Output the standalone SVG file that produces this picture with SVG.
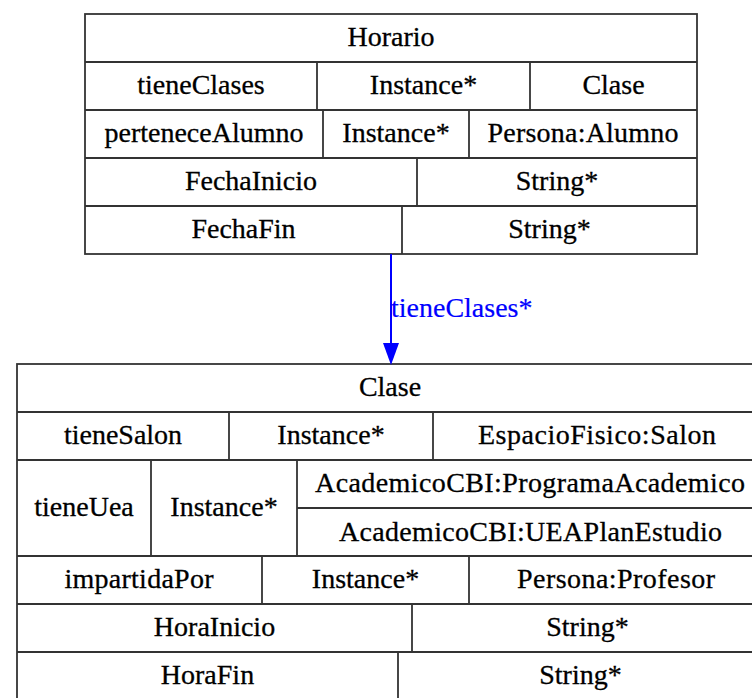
<svg xmlns="http://www.w3.org/2000/svg" width="752" height="698" viewBox="0 0 752 698">
<style>
.cell{fill:none;stroke:#333;stroke-width:1.8}
.t{font-size:28px;fill:#000;stroke:#000;stroke-width:0.3;text-anchor:middle}
.el{font-size:28px;fill:#0000ff;stroke:#0000ff;stroke-width:0.2}
.edge{fill:none;stroke:#0000ff;stroke-width:2}
</style>
<defs>
<marker id="arrow" markerUnits="userSpaceOnUse" markerWidth="22" markerHeight="16" refX="0" refY="8" orient="auto">
<path d="M0,0 L22,8 L0,16 z" fill="#0000ff"/>
</marker>
</defs>
<rect width="752" height="698" fill="#ffffff"/>
<g font-family="Liberation Serif, Times New Roman, serif">
<g id="Horario">
<rect class="cell" x="85" y="14" width="612" height="240"/>
<path class="cell" d="M85,62H697M85,110H697M85,158H697M85,206H697M317,62V110M530,62V110M323,110V158M469,110V158M417,158V206M402,206V254"/>
<text class="t" x="391" y="46">Horario</text>
<text class="t" x="201" y="94">tieneClases</text>
<text class="t" x="423.5" y="94">Instance*</text>
<text class="t" x="613.5" y="94">Clase</text>
<text class="t" x="204" y="142">perteneceAlumno</text>
<text class="t" x="396" y="142">Instance*</text>
<text class="t" x="583" y="142" textLength="191" lengthAdjust="spacing">Persona:Alumno</text>
<text class="t" x="251" y="190">FechaInicio</text>
<text class="t" x="557" y="190">String*</text>
<text class="t" x="243.5" y="238">FechaFin</text>
<text class="t" x="549.5" y="238">String*</text>
</g>
<g id="Clase">
<rect class="cell" x="17" y="364" width="746" height="336"/>
<path class="cell" d="M17,412H763M17,460H763M297,508H763M17,556H763M17,604H763M17,652H763M229,412V460M433,412V460M151,460V556M297,460V556M262,556V604M469,556V604M412,604V652M398,652V700"/>
<text class="t" x="390" y="396">Clase</text>
<text class="t" x="123" y="444">tieneSalon</text>
<text class="t" x="331" y="444">Instance*</text>
<text class="t" x="597" y="444" textLength="238" lengthAdjust="spacing">EspacioFisico:Salon</text>
<text class="t" x="84" y="516">tieneUea</text>
<text class="t" x="224" y="516">Instance*</text>
<text class="t" x="530" y="492" textLength="430" lengthAdjust="spacing">AcademicoCBI:ProgramaAcademico</text>
<text class="t" x="530.5" y="541" textLength="383" lengthAdjust="spacing">AcademicoCBI:UEAPlanEstudio</text>
<text class="t" x="139" y="588" textLength="149" lengthAdjust="spacing">impartidaPor</text>
<text class="t" x="365.5" y="588">Instance*</text>
<text class="t" x="616" y="588" textLength="198" lengthAdjust="spacing">Persona:Profesor</text>
<text class="t" x="214.5" y="636">HoraInicio</text>
<text class="t" x="587.5" y="636">String*</text>
<text class="t" x="207.5" y="684">HoraFin</text>
<text class="t" x="580.5" y="684">String*</text>
</g>
<g id="connectors">
<path class="edge" d="M391,254V343" marker-end="url(#arrow)"/>
<text class="el" x="391" y="317">tieneClases*</text>
</g>
</g>
</svg>
